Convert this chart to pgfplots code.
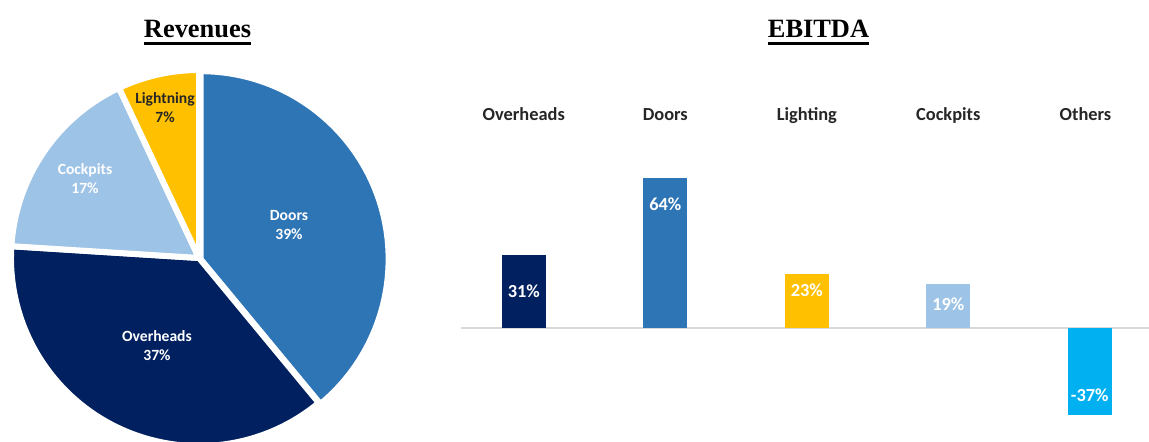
\documentclass[border=0pt]{standalone}
\usepackage{pgfplots}
\pgfplotsset{compat=1.18}
\usepackage{fontspec}
\setmainfont{Liberation Serif}
\newfontfamily\carlito{Carlito}
\definecolor{cOver}{HTML}{002060}
\definecolor{cDoors}{HTML}{2E75B6}
\definecolor{cCock}{HTML}{9DC3E6}
\definecolor{cLight}{HTML}{FFC000}
\definecolor{cOther}{HTML}{00B0F0}
\definecolor{cLine}{HTML}{D9D9D9}
\newcommand\ulbox[1]{\setbox0\hbox{#1}\leavevmode\rlap{\rule[-3.75pt]{\wd0}{1.6pt}}\box0}
\begin{document}
\begin{tikzpicture}[x=1pt,y=1pt]
\useasboundingbox (0,0) rectangle (574.5,221);
% titles
\node[anchor=base,inner sep=0pt,font=\fontsize{13.2}{15}\selectfont\bfseries] at (98.75,202.25) {\ulbox{Revenues}};
\node[anchor=base,inner sep=0pt,font=\fontsize{13.2}{15}\selectfont\bfseries] at (409.25,202.25) {\ulbox{EBITDA}};
% ---------------- pie (units: px, y up, centre of pie at origin)
\begin{axis}[at={(99.5pt,92pt)}, anchor=center, scale only axis,
  width=190pt, height=190pt, xmin=-190, xmax=190, ymin=-190, ymax=190,
  hide axis, clip=false]
% Doors 39%  : 90 -> -50.4 (slightly pulled out)
\addplot[fill=cDoors, draw=white, line width=3pt, line join=round, shift={(0.8pt,-0.6pt)}]
  coordinates {(0,0) (0,188)} arc[start angle=90, end angle=-50.4, radius=94pt] -- cycle;
% Overheads 37% : -50.4 -> -183.6
\addplot[fill=cOver, draw=white, line width=3pt, line join=round]
  coordinates {(0,0) (119.8,-144.9)} arc[start angle=-50.4, end angle=-183.6, radius=94pt] -- cycle;
% Cockpits 17% : -183.6 -> -244.8
\addplot[fill=cCock, draw=white, line width=3pt, line join=round]
  coordinates {(0,0) (-187.6,11.8)} arc[start angle=-183.6, end angle=-244.8, radius=94pt] -- cycle;
% Lightning 7% : -244.8 -> -270
\addplot[fill=cLight, draw=white, line width=3pt, line join=round]
  coordinates {(0,0) (-80.0,170.1)} arc[start angle=-244.8, end angle=-270, radius=94pt] -- cycle;
\tikzset{pielab/.style={align=center, inner sep=0pt, font=\carlito\bfseries\fontsize{7.8}{9.5}\selectfont}}
\node[pielab, white] at (axis cs:90,32.5) {Doors\\39\%};
\node[pielab, white] at (axis cs:-42,-88) {Overheads\\37\%};
\node[pielab, white] at (axis cs:-114,79) {Cockpits\\17\%};
\node[pielab, black!85] at (axis cs:-34,150) {Lightning\\7\%};
\end{axis}
% ---------------- EBITDA bars
\begin{axis}[at={(230.5pt,10.2pt)}, anchor=south west, scale only axis,
  width=344.8pt, height=157.95pt, xmin=-0.444, xmax=4.43, ymin=-40, ymax=95,
  hide axis, clip=false]
\addplot[cLine, line width=0.8pt] coordinates {(-0.444,0) (4.43,0)};
\addplot[ybar, bar width=22pt, fill=cOver,  draw=none] coordinates {(0,31)};
\addplot[ybar, bar width=22pt, fill=cDoors, draw=none] coordinates {(1,64)};
\addplot[ybar, bar width=22pt, fill=cLight, draw=none] coordinates {(2,23)};
\addplot[ybar, bar width=22pt, fill=cCock,  draw=none] coordinates {(3,19)};
\addplot[ybar, bar width=22pt, fill=cOther, draw=none] coordinates {(4,-37)};
\tikzset{catlab/.style={anchor=base, inner sep=0pt, font=\carlito\bfseries\fontsize{9.2}{11}\selectfont, black!85}}
\node[catlab] at (axis cs:0,88.6) {Overheads};
\node[catlab] at (axis cs:1,88.6) {Doors};
\node[catlab] at (axis cs:2,88.6) {Lighting};
\node[catlab] at (axis cs:3,88.6) {Cockpits};
\node[catlab] at (axis cs:3.97,88.6) {Others};
\tikzset{vallab/.style={anchor=base, inner sep=0pt, font=\carlito\bfseries\fontsize{9.2}{11}\selectfont, white}}
\node[vallab] at (axis cs:0,13.2) {31\%};
\node[vallab] at (axis cs:1,50.0) {64\%};
\node[vallab] at (axis cs:2,13.4) {23\%};
\node[vallab] at (axis cs:3,7.3) {19\%};
\node[vallab] at (axis cs:4,-31.2) {-37\%};
\end{axis}
\end{tikzpicture}
\end{document}
